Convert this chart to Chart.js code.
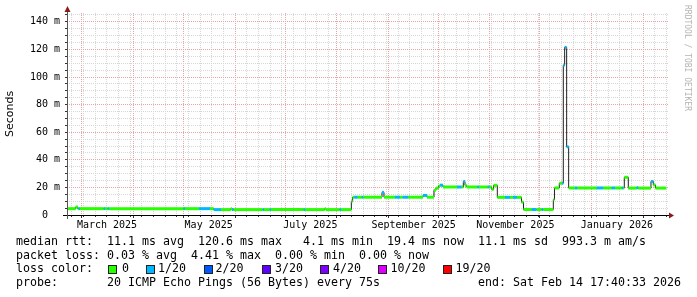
<!DOCTYPE html>
<html>
<head>
<meta charset="utf-8">
<script src="https://cdn.jsdelivr.net/npm/chart.js@4.4.0/dist/chart.umd.min.js"></script>
<style>
  html, body { margin: 0; padding: 0; background: #fff; }
  #wrap { position: relative; width: 697px; height: 297px; overflow: hidden; }
  #graph { position: absolute; left: 0; top: 0; }
  .txt { position: absolute; margin: 0; font-family: 'DejaVu Sans Mono', monospace; font-size: 11.63px; line-height: 13.7px; white-space: pre; color: #000; }
  .box { position: absolute; top: 265px; width: 7px; height: 7px; border: 1px solid #222; }
  .credit { position: absolute; left: 683px; top: 5px; writing-mode: vertical-rl; font-family: 'DejaVu Sans Mono', monospace; font-size: 8px; color: #b4b4b4; }
</style>
</head>
<body>
<div id="wrap">
  <canvas id="graph" width="697" height="297"></canvas>
  <div class="credit">RRDTOOL / TOBI OETIKER</div>
  <pre class="txt" style="left:16px; top:234.8px;">median rtt:  11.1 ms avg  120.6 ms max   4.1 ms min  19.4 ms now  11.1 ms sd  993.3 m am/s
packet loss: 0.03 % avg  4.41 % max  0.00 % min  0.00 % now
loss color:
probe:       20 ICMP Echo Pings (56 Bytes) every 75s              end: Sat Feb 14 17:40:33 2026</pre>
  <div id="lossLegend"></div>
</div>
<script>
// x values are days since 1 Mar 2025
const xMin = -8.82;
const xMax = 351.82;
const dataEnd = 350.74; // Sat Feb 14 17:40 2026

// ! median rtt, one run per entry: starts at runStart, lasts until the next one
const runStart = [-8.82, -3.6, -2.4, -1.8, -1.0, 13.2, 14.0, 15.6, 16.4, 61.2,
  62.0, 70.4, 77.0, 79.2, 83.6, 89.4, 90.2, 91.2, 108.6, 109.4,
  112.8, 113.6, 133.2, 134.0, 145.8, 146.6, 154.8, 155.6, 161.8, 162.6,
  163.6, 165.6, 168.0, 169.0, 180.2, 181.4, 188.0, 191.0, 192.6, 196.0,
  204.8, 207.2, 211.4, 212.6, 214.2, 215.0, 216.8, 225.2, 228.0, 229.0,
  230.0, 231.0, 237.4, 238.4, 243.6, 244.7, 246.0, 247.2, 249.4, 254.0,
  257.0, 258.8, 261.2, 263.9, 265.1, 270.0, 273.0, 276.0, 277.0, 283.0,
  283.7, 286.6, 288.2, 289.0, 289.8, 291.0, 292.2, 296.0, 297.4, 309.0,
  313.0, 318.0, 320.0, 324.0, 325.0, 325.6, 328.0, 333.0, 334.0, 341.6,
  343.0, 344.3];
const medianMs = [4.6, 5.8, 4.6, 4.6, 4.6, 4.6, 4.6, 4.6, 4.6, 4.6,
  4.6, 4.6, 4.6, 3.9, 3.9, 4.5, 3.9, 3.9, 3.9, 3.9,
  3.9, 3.9, 3.9, 3.9, 4.5, 3.9, 3.9, 3.9, 10.0, 12.9,
  12.9, 12.9, 12.9, 12.9, 16.4, 12.9, 12.9, 12.9, 12.9, 12.9,
  14.2, 12.9, 17.9, 19.5, 21.1, 21.6, 20.3, 20.3, 20.3, 24.2,
  21.5, 20.3, 20.3, 20.3, 20.3, 20.3, 18.6, 21.5, 12.8, 12.8,
  12.8, 12.8, 12.8, 9.3, 4.0, 4.0, 4.0, 4.0, 4.0, 11.1,
  19.6, 23.0, 23.0, 108.5, 121.5, 49.4, 19.6, 19.6, 19.6, 19.6,
  19.6, 19.6, 19.6, 19.6, 19.6, 27.3, 19.5, 19.8, 19.5, 24.3,
  21.8, 19.5];
// index into lossColors
const lossLevel = [0, 0, 0, 1, 0, 1, 0, 1, 0, 1,
  0, 1, 0, 1, 0, 0, 1, 0, 1, 0,
  1, 0, 1, 0, 0, 0, 1, 0, 0, 0,
  1, 0, 1, 0, 1, 0, 1, 0, 1, 0,
  1, 0, 0, 0, 0, 1, 0, 1, 0, 1,
  0, 0, 1, 0, 1, 0, 0, 0, 0, 1,
  0, 1, 0, 0, 0, 1, 0, 1, 0, 0,
  0, 0, 1, 1, 1, 1, 0, 1, 0, 1,
  0, 1, 0, 1, 0, 0, 0, 1, 0, 1,
  0, 0];

const lossColors = ['#26ff00', '#00b8ff', '#0059ff', '#5e00ff', '#7e00ff', '#dd00ff', '#ff0000'];
const lossNames = ['0', '1/20', '2/20', '3/20', '4/20', '10/20', '19/20'];

// ticks
const monthStarts = [0, 31, 61, 92, 122, 153, 184, 214, 245, 275, 306, 337];
const labelDays = [15.2, 76.2, 137.2, 199.2, 260.2, 321.2];
const monthLabels = ['March 2025', 'May 2025', 'July 2025', 'September 2025', 'November 2025', 'January 2026'];
const yMax = 146.4;

const minorGrid = '#d6d6d6';
const majorGrid = '#eba3a3';
const arrowColor = '#8b1a1a';

// weekly grid on Sundays (2 Mar 2025 is one)
const weekTicks = [];
for (let d = -6; d < xMax; d += 7) weekTicks.push(d);
const yTicks = [];
for (let v = 0; v <= 145; v += 5) yTicks.push(v);

// coloured bits: one short flat piece per run, broken by a gap
const lossPoints = [];
runStart.forEach((s, i) => {
  const e = i + 1 < runStart.length ? runStart[i + 1] : dataEnd;
  lossPoints.push({x: s, y: medianMs[i]}, {x: e, y: medianMs[i]}, {x: e, y: null});
});
// thin dark line through the run starts, flat first then the jump
const stepPoints = runStart.map((s, i) => ({x: s, y: medianMs[i]}));
stepPoints.push({x: dataEnd, y: medianMs[medianMs.length - 1]});

// legend boxes for loss colour
const boxX = [108, 146, 204, 262, 320, 378, 443];
const nameX = [122, 158, 215.5, 275, 333, 390.5, 455.5];
const legend = document.getElementById('lossLegend');
lossColors.forEach((c, i) => {
  const b = document.createElement('div');
  b.className = 'box';
  b.style.left = boxX[i] + 'px';
  b.style.background = c;
  legend.appendChild(b);
  const t = document.createElement('pre');
  t.className = 'txt';
  t.style.left = nameX[i] + 'px';
  t.style.top = '262.2px';
  t.textContent = lossNames[i];
  legend.appendChild(t);
});

// ! axes with arrows, the way rrdtool does it
const rrdAxes = {
  id: 'rrdAxes',
  afterDraw(chart) {
    const a = chart.chartArea;
    const c = chart.ctx;
    c.save();
    c.lineWidth = 1;
    c.strokeStyle = '#000';
    c.beginPath();
    c.moveTo(a.left - 4, a.bottom + 0.5);
    c.lineTo(a.right + 1, a.bottom + 0.5);
    c.stroke();
    c.strokeStyle = '#555';
    c.beginPath();
    c.moveTo(a.left + 0.5, a.bottom + 4);
    c.lineTo(a.left + 0.5, a.top - 2);
    c.stroke();
    c.fillStyle = arrowColor;
    c.beginPath();
    c.moveTo(a.right + 6, a.bottom + 0.5);
    c.lineTo(a.right + 1, a.bottom - 2.5);
    c.lineTo(a.right + 1, a.bottom + 3.5);
    c.closePath();
    c.fill();
    c.beginPath();
    c.moveTo(a.left + 0.5, a.top - 7);
    c.lineTo(a.left - 2.5, a.top - 1);
    c.lineTo(a.left + 3.5, a.top - 1);
    c.closePath();
    c.fill();
    c.restore();
  }
};

const ctx = document.getElementById('graph').getContext('2d');
const graph = new Chart(ctx, {
  type: 'line',
  data: {
    datasets: [{
      label: 'loss',
      data: lossPoints,
      borderWidth: 3,
      borderCapStyle: 'butt',
      pointRadius: 0,
      spanGaps: false,
      order: 0,
      segment: {
        borderColor: c => lossColors[lossLevel[Math.floor(c.p0DataIndex / 3)]]
      }
    }, {
      label: 'median rtt',
      data: stepPoints,
      stepped: 'before',
      borderColor: '#202020',
      borderWidth: 1,
      pointRadius: 0,
      order: 1
    }]
  },
  plugins: [rrdAxes],
  options: {
    responsive: false,
    animation: false,
    layout: {padding: {left: 0, right: 29, top: 13, bottom: 64}},
    plugins: {legend: {display: false}, tooltip: {enabled: false}},
    scales: {
      x: {
        type: 'linear', min: xMin, max: xMax,
        afterBuildTicks: s => { s.ticks = weekTicks.map(v => ({value: v})); },
        afterFit: s => { s.height = 0; },
        ticks: {display: false},
        grid: {color: minorGrid, tickLength: 2, tickColor: '#333'},
        border: {display: false, dash: [1, 1]}
      },
      xMonth: {
        type: 'linear', position: 'bottom', min: xMin, max: xMax,
        afterBuildTicks: s => { s.ticks = monthStarts.map(v => ({value: v})); },
        afterFit: s => { s.height = 0; },
        ticks: {display: false},
        grid: {color: majorGrid, tickLength: 3, tickColor: '#333'},
        border: {display: false, dash: [1, 1]}
      },
      xLabel: {
        type: 'linear', position: 'bottom', min: xMin, max: xMax,
        afterBuildTicks: s => { s.ticks = labelDays.map(v => ({value: v})); },
        afterFit: s => { s.height = 18; },
        ticks: {
          autoSkip: false, maxRotation: 0, padding: 4, color: '#000',
          font: {family: 'DejaVu Sans Mono', size: 10},
          callback: (v, i) => monthLabels[i]
        },
        grid: {display: false, drawTicks: false},
        border: {display: false}
      },
      y: {
        min: 0, max: yMax,
        afterBuildTicks: s => { s.ticks = yTicks.map(v => ({value: v})); },
        afterFit: s => { s.width = 67; },
        ticks: {
          autoSkip: false, padding: 5, color: '#000',
          font: {family: 'DejaVu Sans Mono', size: 10},
          callback: v => v % 20 !== 0 ? '' : (v === 0 ? '0  ' : v + ' m')
        },
        grid: {
          color: c => c.tick.value % 20 === 0 ? majorGrid : minorGrid,
          tickLength: 2, tickColor: '#333'
        },
        border: {display: false, dash: [1, 1]},
        title: {display: true, text: 'Seconds', color: '#000', font: {family: 'DejaVu Sans', size: 11}}
      }
    }
  }
});
</script>
</body>
</html>
